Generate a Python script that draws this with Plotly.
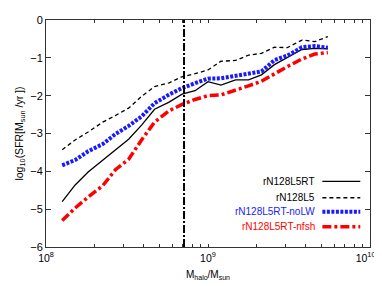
import plotly.graph_objects as go

# log10 halo mass bins
log_mhalo = [8.10, 8.18, 8.26, 8.35, 8.43, 8.51, 8.59, 8.67, 8.76, 8.84, 8.92,
             9.00, 9.08, 9.17, 9.25, 9.33, 9.41, 9.49, 9.58, 9.66, 9.74]

sfr_rt = [-4.80, -4.36, -4.02, -3.70, -3.42, -3.15, -2.78, -2.36, -2.17, -1.96, -1.87,
          -1.63, -1.72, -1.58, -1.58, -1.45, -1.18, -1.00, -0.78, -0.75, -0.76]
sfr_l5 = [-3.43, -3.17, -2.96, -2.70, -2.52, -2.33, -2.02, -1.76, -1.66, -1.50, -1.42,
          -1.32, -1.09, -1.07, -0.93, -0.88, -0.72, -0.73, -0.53, -0.57, -0.44]
sfr_nolw = [-3.84, -3.70, -3.47, -3.28, -3.01, -2.80, -2.55, -2.20, -1.97, -1.80, -1.67,
            -1.55, -1.54, -1.48, -1.42, -1.36, -1.06, -0.94, -0.72, -0.69, -0.73]
sfr_nfsh = [-5.30, -4.97, -4.68, -4.38, -3.95, -3.68, -3.17, -2.70, -2.40, -2.23, -2.10,
            -2.00, -1.98, -1.86, -1.74, -1.62, -1.42, -1.23, -1.03, -0.90, -0.86]

series_names = ["rN128L5RT", "rN128L5", "rN128L5RT-noLW", "rN128L5RT-nfsh"]
vline_log_mass = 8.852

y_tick_vals = [0, -1, -2, -3, -4, -5, -6]

mhalo = [10 ** v for v in log_mhalo]

styles = [
    dict(color="black", width=1.3, dash="solid"),
    dict(color="black", width=1.3, dash="4px,3px"),
    dict(color="#1a1aff", width=4, dash="3px,1.5px"),
    dict(color="#ff0000", width=3.5, dash="9px,3px,3px,3px"),
]
text_colors = ["black", "black", "#1a1aff", "#ff0000"]
all_y = [sfr_rt, sfr_l5, sfr_nolw, sfr_nfsh]

fig = go.Figure()
for name, ys, st in zip(series_names, all_y, styles):
    fig.add_trace(go.Scatter(x=mhalo, y=ys, mode="lines", name=name, line=st,
                             showlegend=False))

# vertical dash-dot line
vx = 10 ** vline_log_mass
fig.add_trace(go.Scatter(x=[vx, vx], y=[-6, 0], mode="lines", showlegend=False,
                         line=dict(color="black", width=2, dash="8px,2px,2px,2px")))

# manual gnuplot-style legend (text right, sample on right)
leg_y = [0.289, 0.217, 0.155, 0.089]
for name, ly, st, tc in zip(series_names, leg_y, styles, text_colors):
    fig.add_annotation(x=0.835, y=ly, xref="paper", yref="paper", text=name,
                       showarrow=False, xanchor="right", yanchor="middle",
                       font=dict(color=tc, size=10, family="Liberation Sans"))
    fig.add_shape(type="line", xref="paper", yref="paper", x0=0.853, x1=0.970,
                  y0=ly, y1=ly, line=st)

# x ticks: decades labelled, minor ticks unlabeled
xt_vals, xt_text = [], []
for d in range(8, 10):
    for m in range(1, 10):
        xt_vals.append(m * 10 ** d)
        xt_text.append(f"10<sup>{d}</sup>" if m == 1 else "")
xt_vals.append(10 ** 10)
xt_text.append("10<sup>10</sup>&nbsp;&nbsp;&nbsp;")

fig.update_layout(
    width=382, height=286,
    margin=dict(l=38, r=10, t=6, b=47),
    plot_bgcolor="white", paper_bgcolor="white",
    font=dict(family="Liberation Sans", size=11, color="black"),
    xaxis=dict(type="log", range=[7.9999, 10.0001], tickvals=xt_vals, ticktext=xt_text,
               ticks="inside", ticklen=3, tickcolor="#333", showgrid=False,
               zeroline=False, showline=True, linecolor="#333", linewidth=1,
               mirror="allticks", ticklabelstandoff=1, ticklabeloverflow="allow",
               tickfont=dict(size=10.5),
               title=dict(text="M<sub>halo</sub>/M<sub>sun</sub>", font=dict(size=10),
                          standoff=8)),
    yaxis=dict(range=[-6.0001, 0.0001], tickvals=y_tick_vals, ticks="inside", ticklen=5,
               tickcolor="#333", showgrid=False, zeroline=False, showline=True,
               linecolor="#333", linewidth=1, mirror="allticks",
               ticklabeloverflow="allow",
               title=dict(text="log<sub>10</sub>(SFR[M<sub>sun</sub> /yr ])",
                          font=dict(size=10.5), standoff=4)),
)

fig.write_html("out.html")
